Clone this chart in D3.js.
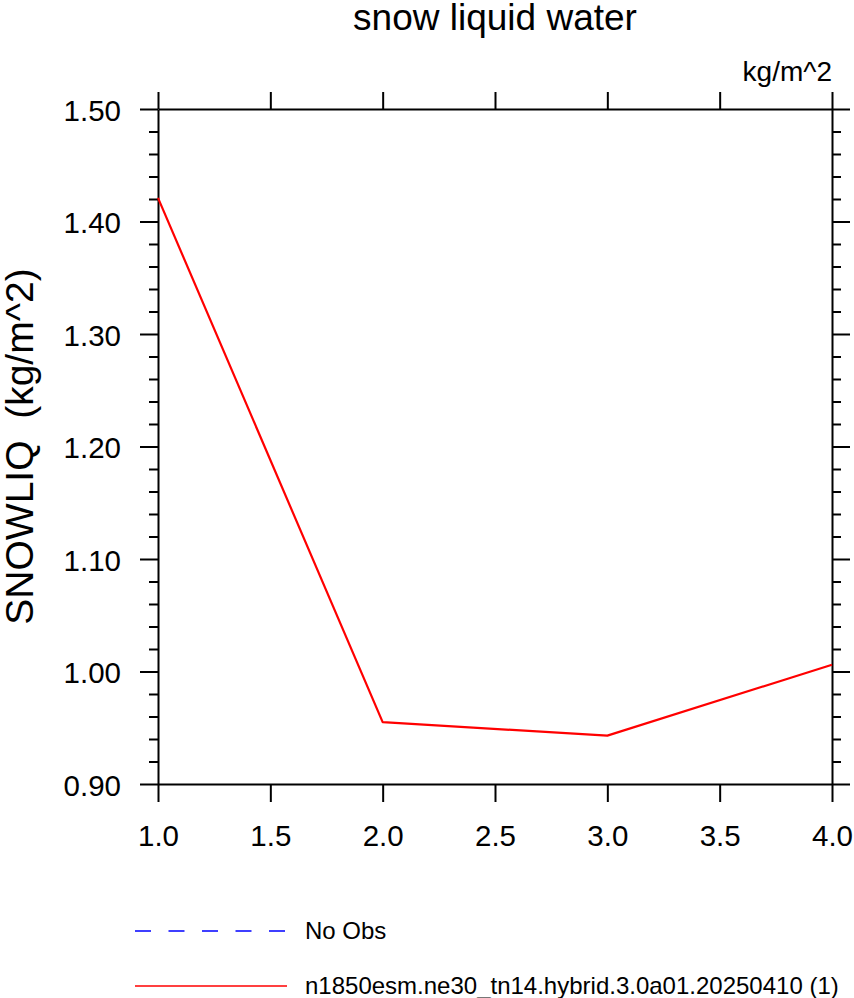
<!DOCTYPE html>
<meta charset="utf-8">
<style>
body { margin: 0; background: #fff; }
text { font-family: "Liberation Sans", Arial, sans-serif; fill: #000; }
.axis path, .axis line { stroke: #000; stroke-width: 2; }
.axis text { font-size: 29.5px; }
</style>
<svg width="854" height="998"></svg>
<script src="https://cdn.jsdelivr.net/npm/d3@7"></script>
<script>

// data
var xValues = [1, 2, 3, 4];
var snowliq = [1.421, 0.955, 0.943, 1.006];
var xTicks = [1.0, 1.5, 2.0, 2.5, 3.0, 3.5, 4.0];
var yTicks = [0.90, 1.00, 1.10, 1.20, 1.30, 1.40, 1.50];
var yMinor = d3.range(0.92, 1.5, 0.02).filter(function(v) {
  return Math.abs(Math.round(v * 10) - v * 10) > 0.01;
});
var legendNames = ["No Obs", "n1850esm.ne30_tn14.hybrid.3.0a01.20250410 (1)"];
var legendColors = ["#0000ff", "#ff0000"];
var legendDash = ["16,17.5", null];

var svg = d3.select("svg"),
    margin = {top: 109, right: 22, bottom: 214, left: 158},
    width = +svg.attr("width") - margin.left - margin.right,
    height = +svg.attr("height") - margin.top - margin.bottom;

var g = svg.append("g")
    .attr("transform", "translate(" + margin.left + "," + margin.top + ")");

var x = d3.scaleLinear().domain([1, 4]).range([0, width]);
var y = d3.scaleLinear().domain([0.9, 1.5]).range([height, 0]);

// bottom axis
g.append("g")
    .attr("class", "axis")
    .attr("transform", "translate(0," + height + ")")
    .call(d3.axisBottom(x).tickValues(xTicks).tickSize(18).tickSizeOuter(0)
      .tickPadding(23).tickFormat(d3.format(".1f")));

// top axis (ticks only)
g.append("g")
    .attr("class", "axis")
    .call(d3.axisTop(x).tickValues(xTicks).tickSize(17).tickSizeOuter(0).tickFormat(""));

// left axis
g.append("g")
    .attr("class", "axis")
    .call(d3.axisLeft(y).tickValues(yTicks).tickSize(18).tickSizeOuter(0)
      .tickPadding(19).tickFormat(d3.format(".2f")))
    .selectAll("text").attr("dy", "0.38em");

g.append("g")
    .attr("class", "axis")
    .call(d3.axisLeft(y).tickValues(yMinor).tickSize(9).tickFormat(""))
    .select(".domain").remove();

// right axis
g.append("g")
    .attr("class", "axis")
    .attr("transform", "translate(" + width + ",0)")
    .call(d3.axisRight(y).tickValues(yTicks).tickSize(18).tickSizeOuter(0).tickFormat(""));

g.append("g")
    .attr("class", "axis")
    .attr("transform", "translate(" + width + ",0)")
    .call(d3.axisRight(y).tickValues(yMinor).tickSize(9).tickFormat(""))
    .select(".domain").remove();

var line = d3.line()
    .x(function(d, i) { return x(xValues[i]); })
    .y(function(d) { return y(d); });

g.append("path")
    .datum(snowliq)
    .attr("fill", "none")
    .attr("stroke", "#ff0000")
    .attr("stroke-width", 2.2)
    .attr("stroke-linejoin", "round")
    .attr("d", line);

// titles
svg.append("text")
    .attr("x", margin.left + width / 2)
    .attr("y", 30)
    .attr("text-anchor", "middle")
    .style("font-size", "37px")
    .text("snow liquid water");

svg.append("text")
    .attr("x", margin.left + width)
    .attr("y", 81)
    .attr("text-anchor", "end")
    .style("font-size", "28px")
    .text("kg/m^2");

svg.append("text")
    .attr("transform", "translate(33," + (margin.top + height / 2) + ") rotate(-90)")
    .attr("text-anchor", "middle")
    .style("font-size", "39px")
    .style("white-space", "pre")
    .text("SNOWLIQ  (kg/m^2)");

// legend
var legend = svg.append("g").selectAll("g")
    .data(legendNames)
  .enter().append("g")
    .attr("transform", function(d, i) { return "translate(0," + (931 + i * 55) + ")"; });

legend.append("line")
    .attr("x1", 135)
    .attr("x2", 287)
    .attr("stroke", function(d, i) { return legendColors[i]; })
    .attr("stroke-width", 1.5)
    .attr("stroke-dasharray", function(d, i) { return legendDash[i]; });

legend.append("text")
    .attr("x", 305)
    .attr("dy", "0.33em")
    .style("font-size", "24px")
    .text(function(d) { return d; });

</script>
